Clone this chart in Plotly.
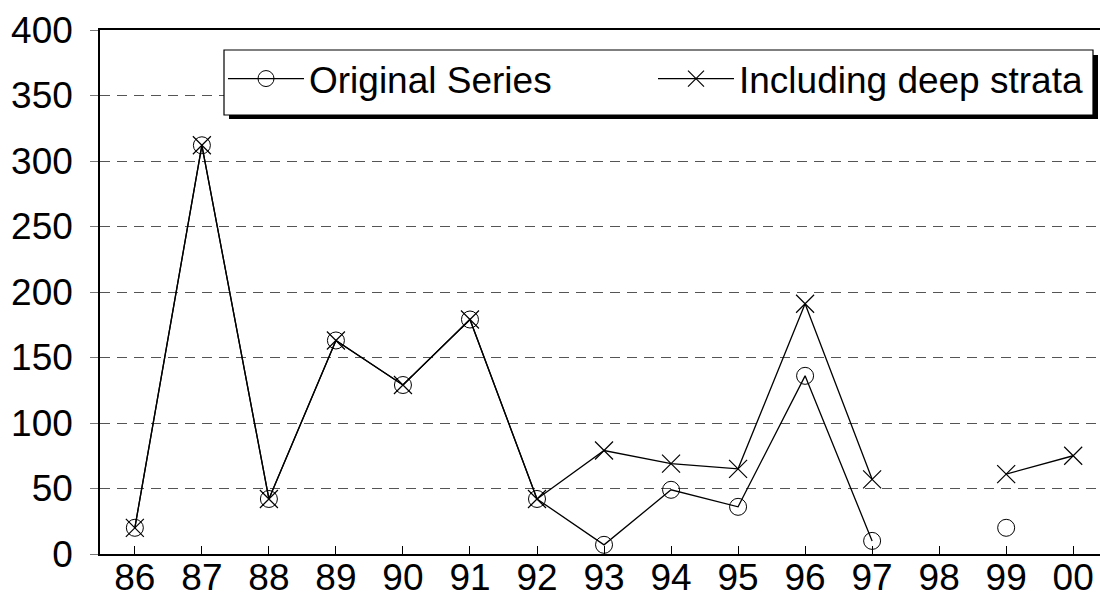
import plotly.graph_objects as go

# Annual values by year label
years = ["86", "87", "88", "89", "90", "91", "92", "93", "94", "95", "96", "97", "98", "99", "00"]
original_series = [20, 312, 42, 163, 129, 179, 42, 7, 49, 36, 136, 10, None, 20, None]
deep_strata = [20, 312, 42, 163, 129, 179, 42, 79, 69, 65, 191, 57, None, 61, 75]
y_ticks = [0, 50, 100, 150, 200, 250, 300, 350, 400]

FONT = "Liberation Sans, Arial, sans-serif"
FS = 37

fig = go.Figure()
fig.add_trace(go.Scatter(
    x=years, y=original_series, name="Original Series",
    mode="lines+markers", connectgaps=False, legend="legend",
    line=dict(color="black", width=1.3),
    marker=dict(symbol="circle-open", size=17, color="black", line=dict(width=1)),
))
fig.add_trace(go.Scatter(
    x=years, y=deep_strata, name="Including deep strata",
    mode="lines+markers", connectgaps=False, legend="legend2",
    line=dict(color="black", width=1.3),
    marker=dict(symbol="x-thin-open", size=18, color="black", line=dict(width=1.2)),
))

# Legend frame with drop shadow (paper coordinates)
L, R, T, B = 224, 1093, 50, 115
W, H, ML, MT = 1000, 524, 100, 30
def px(x):
    return (x - ML) / W
def py(y):
    return 1 - (y - MT) / H

shapes = [
    dict(type="rect", xref="paper", yref="paper", layer="above",
         x0=px(L + 5), x1=px(R + 5), y0=py(B + 4), y1=py(T + 5),
         fillcolor="black", line=dict(width=0)),
    dict(type="rect", xref="paper", yref="paper", layer="above",
         x0=px(L), x1=px(R), y0=py(B), y1=py(T),
         fillcolor="white", line=dict(color="black", width=1.2)),
]

def legend_at(xpix):
    return dict(
        orientation="h", x=px(xpix), xanchor="left", y=py(79), yanchor="middle",
        bgcolor="rgba(0,0,0,0)", borderwidth=0,
        font=dict(family=FONT, size=FS, color="black"),
        itemwidth=76,
    )

fig.update_layout(
    width=1100, height=598,
    margin=dict(l=ML, r=0, t=MT, b=598 - MT - H, autoexpand=False),
    paper_bgcolor="white", plot_bgcolor="white",
    font=dict(family=FONT, size=FS, color="black"),
    shapes=shapes,
    showlegend=True,
    legend=legend_at(223),
    legend2=legend_at(653),
    xaxis=dict(
        type="category", range=[-0.52, 14.4], automargin=False,
        showline=True, linecolor="black", linewidth=2, mirror=True,
        ticks="inside", ticklen=8, tickcolor="black", tickwidth=1,
        showgrid=False, zeroline=False, ticklabelstandoff=-10,
        tickfont=dict(family=FONT, size=FS, color="black"),
    ),
    yaxis=dict(
        range=[0, 400], tickvals=y_ticks, automargin=False,
        showline=True, linecolor="black", linewidth=1.5,
        ticks="outside", ticklen=8, tickcolor="#777", tickwidth=1,
        showgrid=True, gridcolor="#555", gridwidth=1, griddash="10px,7px",
        zeroline=False, ticklabelstandoff=10,
        tickfont=dict(family=FONT, size=FS, color="black"),
    ),
)

fig.write_html("out.html")
